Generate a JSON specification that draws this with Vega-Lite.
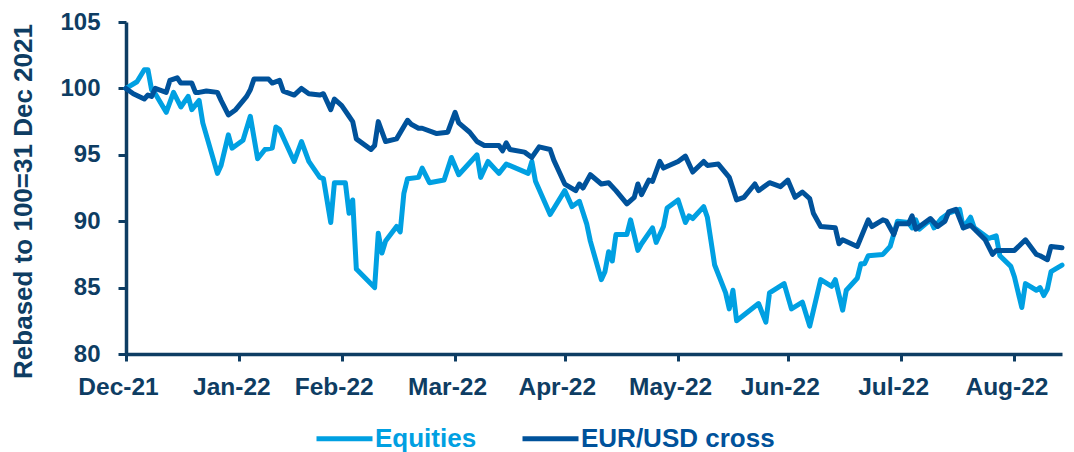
{
  "$schema": "https://vega.github.io/schema/vega-lite/v6.json",
  "width": 936,
  "height": 332,
  "autosize": {"type": "none"},
  "padding": {"left": 126, "top": 22, "right": 12, "bottom": 98},
  "background": "white",
  "config": {
    "view": {"stroke": null},
    "font": "Liberation Sans"
  },
  "data": {
    "values": [
      {"date": "2021-12-31", "series": "Equities", "value": 100},
      {"date": "2022-01-03", "series": "Equities", "value": 100.5},
      {"date": "2022-01-05", "series": "Equities", "value": 101.4},
      {"date": "2022-01-06", "series": "Equities", "value": 101.4},
      {"date": "2022-01-07", "series": "Equities", "value": 99.9},
      {"date": "2022-01-08", "series": "Equities", "value": 99.6},
      {"date": "2022-01-11", "series": "Equities", "value": 98.2},
      {"date": "2022-01-13", "series": "Equities", "value": 99.7},
      {"date": "2022-01-15", "series": "Equities", "value": 98.6},
      {"date": "2022-01-17", "series": "Equities", "value": 99.4},
      {"date": "2022-01-18", "series": "Equities", "value": 98.4},
      {"date": "2022-01-20", "series": "Equities", "value": 99.1},
      {"date": "2022-01-21", "series": "Equities", "value": 97.4},
      {"date": "2022-01-25", "series": "Equities", "value": 93.6},
      {"date": "2022-01-26", "series": "Equities", "value": 94.2},
      {"date": "2022-01-28", "series": "Equities", "value": 96.5},
      {"date": "2022-01-29", "series": "Equities", "value": 95.5},
      {"date": "2022-02-01", "series": "Equities", "value": 96.1},
      {"date": "2022-02-03", "series": "Equities", "value": 97.9},
      {"date": "2022-02-05", "series": "Equities", "value": 94.7},
      {"date": "2022-02-07", "series": "Equities", "value": 95.4},
      {"date": "2022-02-09", "series": "Equities", "value": 95.5},
      {"date": "2022-02-10", "series": "Equities", "value": 97.1},
      {"date": "2022-02-11", "series": "Equities", "value": 96.9},
      {"date": "2022-02-15", "series": "Equities", "value": 94.5},
      {"date": "2022-02-17", "series": "Equities", "value": 96.0},
      {"date": "2022-02-19", "series": "Equities", "value": 94.5},
      {"date": "2022-02-22", "series": "Equities", "value": 93.3},
      {"date": "2022-02-23", "series": "Equities", "value": 93.2},
      {"date": "2022-02-25", "series": "Equities", "value": 89.9},
      {"date": "2022-02-26", "series": "Equities", "value": 92.9},
      {"date": "2022-03-01", "series": "Equities", "value": 92.9},
      {"date": "2022-03-02", "series": "Equities", "value": 90.6},
      {"date": "2022-03-03", "series": "Equities", "value": 91.6},
      {"date": "2022-03-04", "series": "Equities", "value": 86.4},
      {"date": "2022-03-09", "series": "Equities", "value": 85.0},
      {"date": "2022-03-10", "series": "Equities", "value": 89.1},
      {"date": "2022-03-11", "series": "Equities", "value": 87.6},
      {"date": "2022-03-12", "series": "Equities", "value": 88.5},
      {"date": "2022-03-15", "series": "Equities", "value": 89.6},
      {"date": "2022-03-16", "series": "Equities", "value": 89.2},
      {"date": "2022-03-17", "series": "Equities", "value": 92.1},
      {"date": "2022-03-18", "series": "Equities", "value": 93.2},
      {"date": "2022-03-21", "series": "Equities", "value": 93.3},
      {"date": "2022-03-22", "series": "Equities", "value": 94.0},
      {"date": "2022-03-24", "series": "Equities", "value": 92.9},
      {"date": "2022-03-28", "series": "Equities", "value": 93.1},
      {"date": "2022-03-30", "series": "Equities", "value": 94.8},
      {"date": "2022-04-01", "series": "Equities", "value": 93.5},
      {"date": "2022-04-06", "series": "Equities", "value": 95.0},
      {"date": "2022-04-07", "series": "Equities", "value": 93.3},
      {"date": "2022-04-09", "series": "Equities", "value": 94.5},
      {"date": "2022-04-12", "series": "Equities", "value": 93.6},
      {"date": "2022-04-14", "series": "Equities", "value": 94.3},
      {"date": "2022-04-20", "series": "Equities", "value": 93.6},
      {"date": "2022-04-21", "series": "Equities", "value": 94.5},
      {"date": "2022-04-22", "series": "Equities", "value": 93.0},
      {"date": "2022-04-26", "series": "Equities", "value": 90.5},
      {"date": "2022-04-30", "series": "Equities", "value": 92.3},
      {"date": "2022-05-02", "series": "Equities", "value": 91.1},
      {"date": "2022-05-04", "series": "Equities", "value": 91.5},
      {"date": "2022-05-06", "series": "Equities", "value": 89.8},
      {"date": "2022-05-07", "series": "Equities", "value": 88.5},
      {"date": "2022-05-10", "series": "Equities", "value": 85.6},
      {"date": "2022-05-11", "series": "Equities", "value": 86.2},
      {"date": "2022-05-12", "series": "Equities", "value": 87.7},
      {"date": "2022-05-13", "series": "Equities", "value": 87.0},
      {"date": "2022-05-14", "series": "Equities", "value": 89.0},
      {"date": "2022-05-17", "series": "Equities", "value": 89.0},
      {"date": "2022-05-18", "series": "Equities", "value": 90.1},
      {"date": "2022-05-20", "series": "Equities", "value": 87.8},
      {"date": "2022-05-21", "series": "Equities", "value": 88.3},
      {"date": "2022-05-24", "series": "Equities", "value": 89.5},
      {"date": "2022-05-25", "series": "Equities", "value": 88.4},
      {"date": "2022-05-27", "series": "Equities", "value": 89.6},
      {"date": "2022-05-28", "series": "Equities", "value": 91.0},
      {"date": "2022-05-31", "series": "Equities", "value": 91.6},
      {"date": "2022-06-02", "series": "Equities", "value": 89.9},
      {"date": "2022-06-03", "series": "Equities", "value": 90.4},
      {"date": "2022-06-04", "series": "Equities", "value": 90.2},
      {"date": "2022-06-07", "series": "Equities", "value": 91.1},
      {"date": "2022-06-08", "series": "Equities", "value": 90.3},
      {"date": "2022-06-10", "series": "Equities", "value": 86.7},
      {"date": "2022-06-13", "series": "Equities", "value": 84.6},
      {"date": "2022-06-14", "series": "Equities", "value": 83.4},
      {"date": "2022-06-15", "series": "Equities", "value": 84.8},
      {"date": "2022-06-16", "series": "Equities", "value": 82.5},
      {"date": "2022-06-22", "series": "Equities", "value": 83.8},
      {"date": "2022-06-24", "series": "Equities", "value": 82.4},
      {"date": "2022-06-25", "series": "Equities", "value": 84.6},
      {"date": "2022-06-29", "series": "Equities", "value": 85.3},
      {"date": "2022-07-01", "series": "Equities", "value": 83.4},
      {"date": "2022-07-04", "series": "Equities", "value": 83.9},
      {"date": "2022-07-06", "series": "Equities", "value": 82.1},
      {"date": "2022-07-09", "series": "Equities", "value": 85.6},
      {"date": "2022-07-12", "series": "Equities", "value": 85.1},
      {"date": "2022-07-13", "series": "Equities", "value": 85.6},
      {"date": "2022-07-15", "series": "Equities", "value": 83.3},
      {"date": "2022-07-16", "series": "Equities", "value": 84.8},
      {"date": "2022-07-19", "series": "Equities", "value": 85.7},
      {"date": "2022-07-20", "series": "Equities", "value": 86.8},
      {"date": "2022-07-21", "series": "Equities", "value": 86.8},
      {"date": "2022-07-22", "series": "Equities", "value": 87.4},
      {"date": "2022-07-26", "series": "Equities", "value": 87.5},
      {"date": "2022-07-28", "series": "Equities", "value": 88.1},
      {"date": "2022-07-30", "series": "Equities", "value": 90.0},
      {"date": "2022-08-02", "series": "Equities", "value": 89.9},
      {"date": "2022-08-03", "series": "Equities", "value": 89.5},
      {"date": "2022-08-04", "series": "Equities", "value": 90.1},
      {"date": "2022-08-05", "series": "Equities", "value": 89.4},
      {"date": "2022-08-08", "series": "Equities", "value": 90.1},
      {"date": "2022-08-09", "series": "Equities", "value": 89.5},
      {"date": "2022-08-11", "series": "Equities", "value": 90.2},
      {"date": "2022-08-13", "series": "Equities", "value": 90.6},
      {"date": "2022-08-16", "series": "Equities", "value": 90.9},
      {"date": "2022-08-17", "series": "Equities", "value": 89.5},
      {"date": "2022-08-19", "series": "Equities", "value": 90.3},
      {"date": "2022-08-20", "series": "Equities", "value": 89.5},
      {"date": "2022-08-24", "series": "Equities", "value": 88.7},
      {"date": "2022-08-26", "series": "Equities", "value": 88.9},
      {"date": "2022-08-27", "series": "Equities", "value": 87.4},
      {"date": "2022-08-30", "series": "Equities", "value": 86.6},
      {"date": "2022-08-31", "series": "Equities", "value": 85.8},
      {"date": "2022-09-02", "series": "Equities", "value": 83.5},
      {"date": "2022-09-03", "series": "Equities", "value": 85.3},
      {"date": "2022-09-06", "series": "Equities", "value": 84.8},
      {"date": "2022-09-07", "series": "Equities", "value": 85.0},
      {"date": "2022-09-08", "series": "Equities", "value": 84.4},
      {"date": "2022-09-09", "series": "Equities", "value": 84.9},
      {"date": "2022-09-10", "series": "Equities", "value": 86.2},
      {"date": "2022-09-13", "series": "Equities", "value": 86.7},
      {"date": "2021-12-31", "series": "EUR/USD cross", "value": 100},
      {"date": "2022-01-02", "series": "EUR/USD cross", "value": 99.6},
      {"date": "2022-01-05", "series": "EUR/USD cross", "value": 99.2},
      {"date": "2022-01-06", "series": "EUR/USD cross", "value": 99.5},
      {"date": "2022-01-07", "series": "EUR/USD cross", "value": 99.4},
      {"date": "2022-01-08", "series": "EUR/USD cross", "value": 100.0},
      {"date": "2022-01-11", "series": "EUR/USD cross", "value": 99.7},
      {"date": "2022-01-12", "series": "EUR/USD cross", "value": 100.6},
      {"date": "2022-01-14", "series": "EUR/USD cross", "value": 100.8},
      {"date": "2022-01-15", "series": "EUR/USD cross", "value": 100.4},
      {"date": "2022-01-18", "series": "EUR/USD cross", "value": 100.4},
      {"date": "2022-01-19", "series": "EUR/USD cross", "value": 99.7},
      {"date": "2022-01-20", "series": "EUR/USD cross", "value": 99.7},
      {"date": "2022-01-22", "series": "EUR/USD cross", "value": 99.8},
      {"date": "2022-01-25", "series": "EUR/USD cross", "value": 99.7},
      {"date": "2022-01-26", "series": "EUR/USD cross", "value": 99.1},
      {"date": "2022-01-28", "series": "EUR/USD cross", "value": 98.0},
      {"date": "2022-01-30", "series": "EUR/USD cross", "value": 98.4},
      {"date": "2022-02-02", "series": "EUR/USD cross", "value": 99.4},
      {"date": "2022-02-03", "series": "EUR/USD cross", "value": 99.9},
      {"date": "2022-02-04", "series": "EUR/USD cross", "value": 100.7},
      {"date": "2022-02-08", "series": "EUR/USD cross", "value": 100.7},
      {"date": "2022-02-09", "series": "EUR/USD cross", "value": 100.4},
      {"date": "2022-02-11", "series": "EUR/USD cross", "value": 100.6},
      {"date": "2022-02-12", "series": "EUR/USD cross", "value": 99.8},
      {"date": "2022-02-15", "series": "EUR/USD cross", "value": 99.5},
      {"date": "2022-02-17", "series": "EUR/USD cross", "value": 100.0},
      {"date": "2022-02-19", "series": "EUR/USD cross", "value": 99.6},
      {"date": "2022-02-22", "series": "EUR/USD cross", "value": 99.5},
      {"date": "2022-02-23", "series": "EUR/USD cross", "value": 99.6},
      {"date": "2022-02-25", "series": "EUR/USD cross", "value": 98.4},
      {"date": "2022-02-26", "series": "EUR/USD cross", "value": 99.2},
      {"date": "2022-02-28", "series": "EUR/USD cross", "value": 98.7},
      {"date": "2022-03-02", "series": "EUR/USD cross", "value": 97.9},
      {"date": "2022-03-03", "series": "EUR/USD cross", "value": 97.5},
      {"date": "2022-03-04", "series": "EUR/USD cross", "value": 96.2},
      {"date": "2022-03-08", "series": "EUR/USD cross", "value": 95.4},
      {"date": "2022-03-09", "series": "EUR/USD cross", "value": 95.7},
      {"date": "2022-03-10", "series": "EUR/USD cross", "value": 97.5},
      {"date": "2022-03-12", "series": "EUR/USD cross", "value": 96.0},
      {"date": "2022-03-15", "series": "EUR/USD cross", "value": 96.2},
      {"date": "2022-03-18", "series": "EUR/USD cross", "value": 97.6},
      {"date": "2022-03-19", "series": "EUR/USD cross", "value": 97.3},
      {"date": "2022-03-21", "series": "EUR/USD cross", "value": 97.0},
      {"date": "2022-03-22", "series": "EUR/USD cross", "value": 97.0},
      {"date": "2022-03-26", "series": "EUR/USD cross", "value": 96.6},
      {"date": "2022-03-29", "series": "EUR/USD cross", "value": 96.7},
      {"date": "2022-03-31", "series": "EUR/USD cross", "value": 98.2},
      {"date": "2022-04-01", "series": "EUR/USD cross", "value": 97.4},
      {"date": "2022-04-04", "series": "EUR/USD cross", "value": 96.7},
      {"date": "2022-04-06", "series": "EUR/USD cross", "value": 96.0},
      {"date": "2022-04-08", "series": "EUR/USD cross", "value": 95.7},
      {"date": "2022-04-12", "series": "EUR/USD cross", "value": 95.7},
      {"date": "2022-04-13", "series": "EUR/USD cross", "value": 95.3},
      {"date": "2022-04-14", "series": "EUR/USD cross", "value": 95.9},
      {"date": "2022-04-15", "series": "EUR/USD cross", "value": 95.4},
      {"date": "2022-04-19", "series": "EUR/USD cross", "value": 95.2},
      {"date": "2022-04-21", "series": "EUR/USD cross", "value": 94.8},
      {"date": "2022-04-23", "series": "EUR/USD cross", "value": 95.6},
      {"date": "2022-04-26", "series": "EUR/USD cross", "value": 95.4},
      {"date": "2022-04-27", "series": "EUR/USD cross", "value": 94.6},
      {"date": "2022-04-30", "series": "EUR/USD cross", "value": 92.8},
      {"date": "2022-05-03", "series": "EUR/USD cross", "value": 92.3},
      {"date": "2022-05-04", "series": "EUR/USD cross", "value": 92.8},
      {"date": "2022-05-05", "series": "EUR/USD cross", "value": 92.5},
      {"date": "2022-05-07", "series": "EUR/USD cross", "value": 93.5},
      {"date": "2022-05-10", "series": "EUR/USD cross", "value": 92.8},
      {"date": "2022-05-12", "series": "EUR/USD cross", "value": 92.9},
      {"date": "2022-05-14", "series": "EUR/USD cross", "value": 92.3},
      {"date": "2022-05-17", "series": "EUR/USD cross", "value": 91.3},
      {"date": "2022-05-19", "series": "EUR/USD cross", "value": 91.8},
      {"date": "2022-05-20", "series": "EUR/USD cross", "value": 92.8},
      {"date": "2022-05-21", "series": "EUR/USD cross", "value": 92.0},
      {"date": "2022-05-23", "series": "EUR/USD cross", "value": 93.1},
      {"date": "2022-05-24", "series": "EUR/USD cross", "value": 93.0},
      {"date": "2022-05-26", "series": "EUR/USD cross", "value": 94.5},
      {"date": "2022-05-27", "series": "EUR/USD cross", "value": 94.0},
      {"date": "2022-05-31", "series": "EUR/USD cross", "value": 94.5},
      {"date": "2022-06-02", "series": "EUR/USD cross", "value": 94.9},
      {"date": "2022-06-04", "series": "EUR/USD cross", "value": 93.7},
      {"date": "2022-06-07", "series": "EUR/USD cross", "value": 94.5},
      {"date": "2022-06-08", "series": "EUR/USD cross", "value": 94.2},
      {"date": "2022-06-11", "series": "EUR/USD cross", "value": 94.3},
      {"date": "2022-06-14", "series": "EUR/USD cross", "value": 93.3},
      {"date": "2022-06-16", "series": "EUR/USD cross", "value": 91.6},
      {"date": "2022-06-18", "series": "EUR/USD cross", "value": 91.8},
      {"date": "2022-06-21", "series": "EUR/USD cross", "value": 92.8},
      {"date": "2022-06-22", "series": "EUR/USD cross", "value": 92.3},
      {"date": "2022-06-25", "series": "EUR/USD cross", "value": 92.9},
      {"date": "2022-06-28", "series": "EUR/USD cross", "value": 92.6},
      {"date": "2022-06-30", "series": "EUR/USD cross", "value": 93.1},
      {"date": "2022-07-02", "series": "EUR/USD cross", "value": 91.8},
      {"date": "2022-07-04", "series": "EUR/USD cross", "value": 92.2},
      {"date": "2022-07-06", "series": "EUR/USD cross", "value": 91.7},
      {"date": "2022-07-07", "series": "EUR/USD cross", "value": 90.6},
      {"date": "2022-07-09", "series": "EUR/USD cross", "value": 89.6},
      {"date": "2022-07-13", "series": "EUR/USD cross", "value": 89.5},
      {"date": "2022-07-14", "series": "EUR/USD cross", "value": 88.3},
      {"date": "2022-07-15", "series": "EUR/USD cross", "value": 88.6},
      {"date": "2022-07-19", "series": "EUR/USD cross", "value": 88.1},
      {"date": "2022-07-22", "series": "EUR/USD cross", "value": 90.1},
      {"date": "2022-07-23", "series": "EUR/USD cross", "value": 89.6},
      {"date": "2022-07-26", "series": "EUR/USD cross", "value": 90.1},
      {"date": "2022-07-27", "series": "EUR/USD cross", "value": 90.0},
      {"date": "2022-07-29", "series": "EUR/USD cross", "value": 89.0},
      {"date": "2022-07-30", "series": "EUR/USD cross", "value": 89.8},
      {"date": "2022-08-02", "series": "EUR/USD cross", "value": 89.8},
      {"date": "2022-08-03", "series": "EUR/USD cross", "value": 90.4},
      {"date": "2022-08-04", "series": "EUR/USD cross", "value": 89.4},
      {"date": "2022-08-08", "series": "EUR/USD cross", "value": 90.2},
      {"date": "2022-08-10", "series": "EUR/USD cross", "value": 89.6},
      {"date": "2022-08-12", "series": "EUR/USD cross", "value": 90.0},
      {"date": "2022-08-13", "series": "EUR/USD cross", "value": 90.7},
      {"date": "2022-08-15", "series": "EUR/USD cross", "value": 90.9},
      {"date": "2022-08-17", "series": "EUR/USD cross", "value": 89.5},
      {"date": "2022-08-19", "series": "EUR/USD cross", "value": 89.7},
      {"date": "2022-08-23", "series": "EUR/USD cross", "value": 88.6},
      {"date": "2022-08-25", "series": "EUR/USD cross", "value": 87.5},
      {"date": "2022-08-26", "series": "EUR/USD cross", "value": 87.8},
      {"date": "2022-08-31", "series": "EUR/USD cross", "value": 87.8},
      {"date": "2022-09-03", "series": "EUR/USD cross", "value": 88.6},
      {"date": "2022-09-06", "series": "EUR/USD cross", "value": 87.5},
      {"date": "2022-09-07", "series": "EUR/USD cross", "value": 87.4},
      {"date": "2022-09-09", "series": "EUR/USD cross", "value": 87.1},
      {"date": "2022-09-10", "series": "EUR/USD cross", "value": 88.1},
      {"date": "2022-09-13", "series": "EUR/USD cross", "value": 88.0}
    ]
  },
  "mark": {"type": "line", "strokeWidth": 5, "strokeJoin": "round", "strokeCap": "round"},
  "encoding": {
    "x": {
      "field": "date",
      "type": "temporal",
      "scale": {
        "type": "utc",
        "domain": [
          {"year": 2021, "month": 12, "date": 31, "utc": true},
          {"year": 2022, "month": 9, "date": 13, "utc": true}
        ],
        "nice": false
      },
      "axis": {
        "title": null,
        "values": [
          {"year": 2021, "month": 12, "date": 31, "utc": true},
          {"year": 2022, "month": 1, "date": 31, "utc": true},
          {"year": 2022, "month": 2, "date": 28, "utc": true},
          {"year": 2022, "month": 3, "date": 31, "utc": true},
          {"year": 2022, "month": 4, "date": 30, "utc": true},
          {"year": 2022, "month": 5, "date": 31, "utc": true},
          {"year": 2022, "month": 6, "date": 30, "utc": true},
          {"year": 2022, "month": 7, "date": 31, "utc": true},
          {"year": 2022, "month": 8, "date": 31, "utc": true}
        ],
        "format": "%b-%y",
        "grid": false,
        "domainColor": "#0E3D63",
        "domainWidth": 3.5,
        "tickColor": "#0E3D63",
        "tickWidth": 3,
        "tickSize": 7,
        "labelFont": "Liberation Sans",
        "labelFontSize": 24.5,
        "labelFontWeight": "bold",
        "labelColor": "#0E3D63",
        "labelPadding": 14,
        "labelOffset": -8,
        "labelOverlap": false,
        "labelFlush": false
      }
    },
    "y": {
      "field": "value",
      "type": "quantitative",
      "scale": {"domain": [80, 105], "nice": false, "zero": false},
      "axis": {
        "title": "Rebased to 100=31 Dec 2021",
        "values": [80, 85, 90, 95, 100, 105],
        "grid": false,
        "domainColor": "#0E3D63",
        "domainWidth": 3.5,
        "tickColor": "#0E3D63",
        "tickWidth": 3,
        "tickSize": 8,
        "labelFont": "Liberation Sans",
        "labelFontSize": 24,
        "labelFontWeight": "bold",
        "labelColor": "#0E3D63",
        "labelPadding": 18,
        "titleFont": "Liberation Sans",
        "titleFontSize": 26,
        "titleFontWeight": "bold",
        "titleColor": "#0E3D63",
        "titleAngle": -90,
        "titleAlign": "center",
        "titleBaseline": "middle",
        "titleX": -103,
        "titleY": 179
      }
    },
    "color": {
      "field": "series",
      "type": "nominal",
      "scale": {"domain": ["Equities", "EUR/USD cross"], "range": ["#00A0E2", "#00529B"]},
      "legend": {
        "title": null,
        "orient": "none",
        "direction": "horizontal",
        "legendX": 188,
        "legendY": 386,
        "symbolType": "stroke",
        "symbolSize": 3136,
        "symbolStrokeWidth": 5,
        "labelFont": "Liberation Sans",
        "labelFontSize": 26,
        "labelFontWeight": "bold",
        "labelOffset": 0,
        "columnPadding": 35,
        "labelLimit": 400,
        "encode": {
          "labels": {"update": {"fill": {"scale": "color", "field": "value"}}}
        }
      }
    }
  }
}
